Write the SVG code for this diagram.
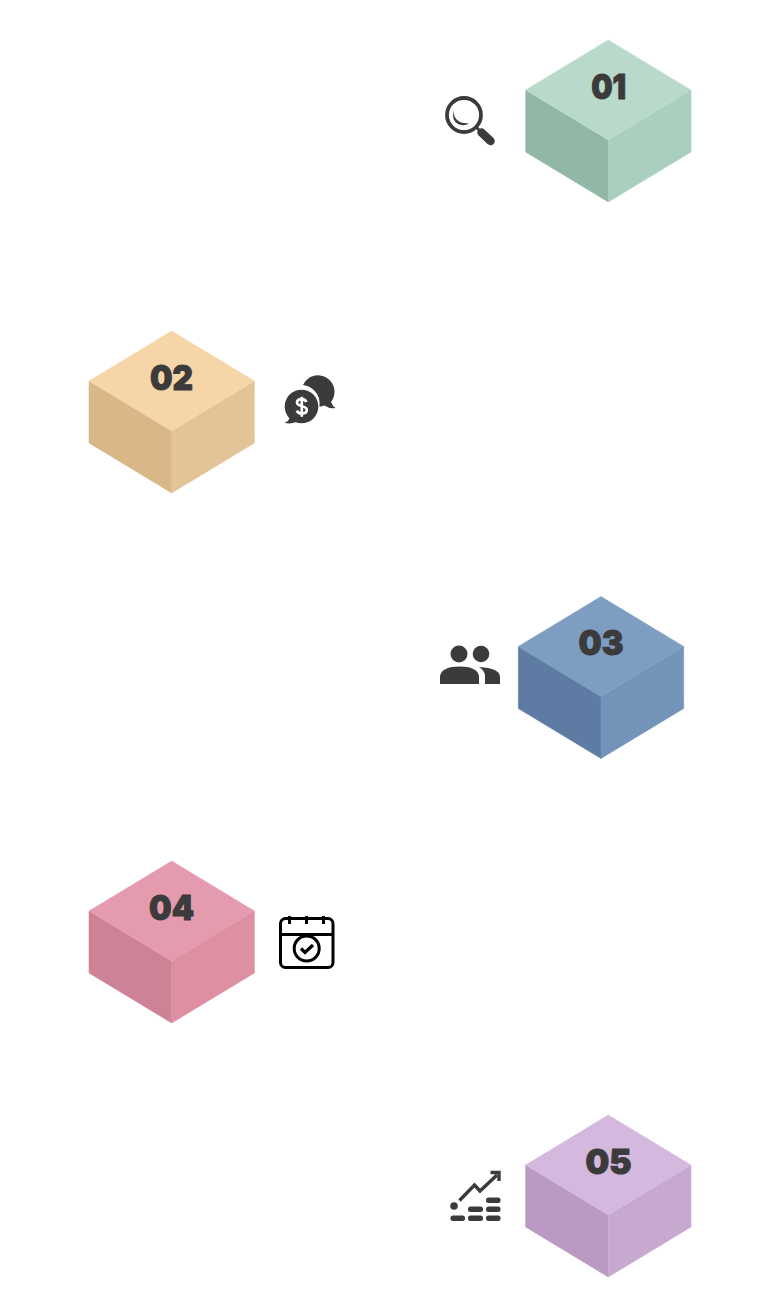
<svg xmlns="http://www.w3.org/2000/svg" width="768" height="1291" viewBox="0 0 768 1291">
<style>
.n{font-family:Inter,"Liberation Sans",sans-serif;font-weight:900;font-size:34px;fill:#3b3b3b;stroke:#3b3b3b;stroke-width:1px;text-anchor:middle}
.i{fill:#3b3b3b}
.s{fill:none;stroke:#3b3b3b}
</style>
<defs>
<g id="cube"><polygon points="-82.700,0 0,50 0,112 -82.700,62" style="fill:var(--l);stroke:var(--l);stroke-width:.5"/><polygon points="82.700,0 0,50 0,112 82.700,62" style="fill:var(--r);stroke:var(--r);stroke-width:.5"/><polygon points="0,-50 82.700,0 0,50 -82.700,0" style="fill:var(--t);stroke:var(--t);stroke-width:.5"/></g>
</defs>
<rect width="768" height="1291" fill="#ffffff"/>
<g id="node-01">
<use href="#cube" x="608.300" y="90" style="--t:#b9dacb;--l:#91b8a7;--r:#a9d0bd"/>
<text class="n" x="608.700" y="99" textLength="35" lengthAdjust="spacingAndGlyphs">01</text>
<g id="icon-search">
<circle class="s" cx="464" cy="115" r="17" stroke-width="3.800"/>
<path class="i" d="M454 110q-1 8 5 11.500q4 2.500 10 1.500q-4 4-11 1q-7-4-4-14z"/>
<path class="s" d="M476 127l3 3" stroke-width="2.800"/>
<path class="s" d="M481.500 132.500l9 8.500" stroke-width="8.500" stroke-linecap="round"/>
</g>
</g>
<g id="node-02">
<use href="#cube" x="171.700" y="381" style="--t:#f6d5a9;--l:#d9b789;--r:#e3c499"/>
<text class="n" x="171.500" y="389.500" textLength="43" lengthAdjust="spacingAndGlyphs">02</text>
<g id="icon-chat">
<path class="i" d="M303 385a16.500 16.500 0 1 1 28 17q1.500 4 4.500 6q-6 1-11-2.500q-2.500 1-5 1.300q1-10-5-16q-5-5-11.500-5.800z"/>
<circle class="i" cx="301.500" cy="406.500" r="16.800"/>
<path class="i" d="M290 417l-2 4l-3.500 1.800q6 1.500 11-.5z"/>
<path d="M306.300 402q-1-2.800-4.600-2.800c-3 0-4.700 1.500-4.700 3.400c0 4.800 9.800 2.600 9.800 7.300c0 2.100-1.900 3.500-5 3.500q-3.800 0-5-2.800M301.800 396.800v20" fill="none" stroke="#fff" stroke-width="2.700"/>
</g>
</g>
<g id="node-03">
<use href="#cube" x="601" y="646.500" style="--t:#7d9dc1;--l:#5e7ca3;--r:#7393b8"/>
<text class="n" x="601" y="655" textLength="45" lengthAdjust="spacingAndGlyphs">03</text>
<g id="icon-people">
<circle class="i" cx="459" cy="654" r="8.500"/>
<circle class="i" cx="481" cy="654" r="8.300"/>
<path class="i" d="M440 684v-8q2-9.500 19.500-9.500q17.500 0 19.500 9.500v8z"/>
<path class="i" d="M479 667q21 1 21 10v7h-15v-8q0-5-6-9z"/>
</g>
</g>
<g id="node-04">
<use href="#cube" x="171.700" y="911" style="--t:#e59bae;--l:#ce8295;--r:#de8fa2"/>
<text class="n" x="171.500" y="919.500" textLength="45" lengthAdjust="spacingAndGlyphs">04</text>
<g id="icon-calendar" fill="none" stroke="#000" stroke-width="3">
<rect x="280.500" y="918.500" width="52.500" height="49" rx="5"/>
<path d="M280.500 934.500h52.500M289.500 916v8M306.500 916v8M323.500 916v8"/>
<circle cx="306.700" cy="948.500" r="12.500"/>
<path d="M301 948.500l4 4l8-7.500" stroke-width="3.200"/>
</g>
</g>
<g id="node-05">
<use href="#cube" x="608.300" y="1165" style="--t:#d5b8de;--l:#ba99c3;--r:#c7a9d0"/>
<text class="n" x="608.500" y="1173.500" textLength="46" lengthAdjust="spacingAndGlyphs">05</text>
<g id="icon-chart">
<path class="s" d="M459.500 1200.500l15-15.500l5.500 6l17-16" stroke-width="3.400"/>
<path class="s" d="M490.500 1172.500h8.500v8.500" stroke-width="3.400"/>
<circle class="i" cx="454" cy="1206" r="3.800"/>
<g class="i">
<rect x="450.500" y="1215.500" width="14.500" height="5.500" rx="2.500"/>
<rect x="468" y="1215.500" width="15" height="5.500" rx="2.500"/>
<rect x="486" y="1215.500" width="14.500" height="5.500" rx="2.500"/>
<rect x="468" y="1206.500" width="15" height="5.500" rx="2.500"/>
<rect x="486" y="1206.500" width="14.500" height="5.500" rx="2.500"/>
<rect x="486" y="1197.500" width="14.500" height="5.500" rx="2.500"/>
</g>
</g>
</g>
</svg>
